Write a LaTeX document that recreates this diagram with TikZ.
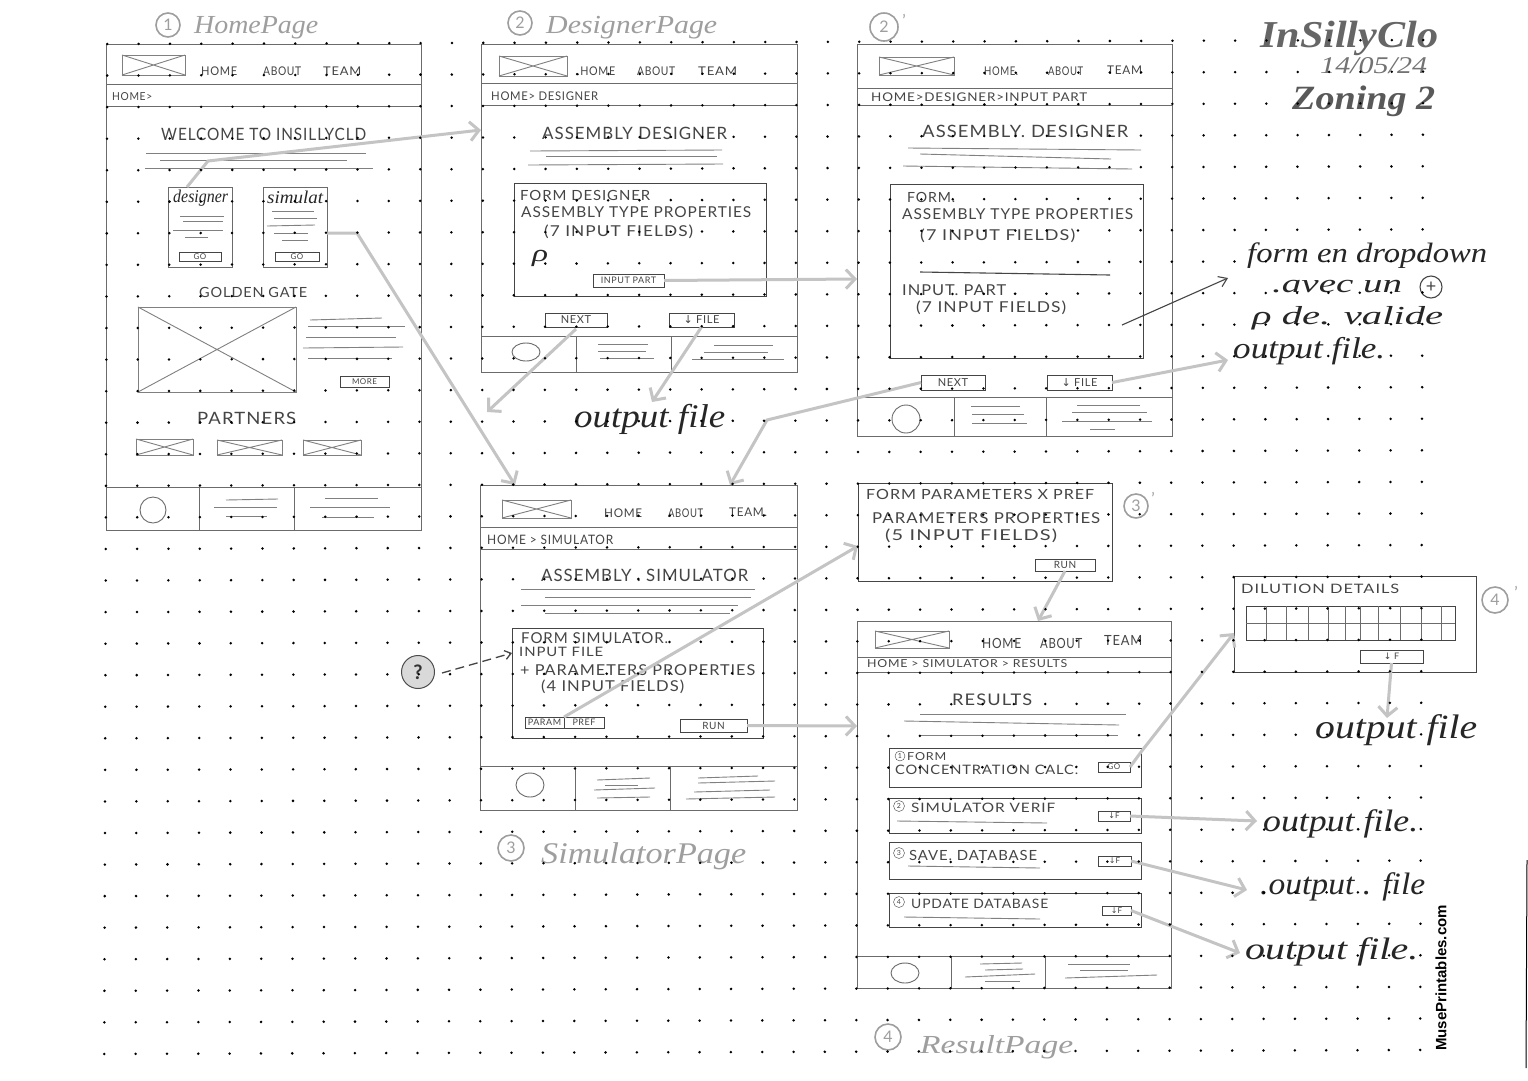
\documentclass[tikz,border=0pt]{standalone}
\usepackage{fontspec}
\usepackage{graphicx}
\usetikzlibrary{arrows.meta}
\setmainfont{Lato}
\newfontfamily\capsfont[LetterSpace=6]{Lato}
\newfontfamily\cursfont{Liberation Serif}
\newfontfamily\arrowfont{DejaVu Sans}
\newfontfamily\brandfont{Liberation Sans}
\definecolor{pen}{gray}{0.27}
\definecolor{framecol}{gray}{0.42}
\definecolor{faint}{gray}{0.5}
\definecolor{ttl}{gray}{0.62}
\definecolor{arrowcol}{gray}{0.77}
\tikzset{
  sk/.style={draw=framecol,line width=0.9pt},
  skl/.style={draw=faint,line width=0.9pt},
  boxs/.style={draw=pen,line width=1pt,inner sep=0pt,outer sep=0pt},
  btn/.style={draw=pen,line width=1pt,inner sep=0pt,outer sep=0pt,text=pen,font=\capsfont\fontsize{10}{10}\selectfont},
  pagef/.style={draw=framecol,line width=1pt,inner sep=0pt,outer sep=0pt},
  capt/.style={anchor=west,inner sep=0pt,text=pen},
  ttlt/.style={anchor=west,inner sep=0pt,text=ttl},
  curst/.style={anchor=west,inner sep=0pt,text=black!85},
  lblc/.style={draw=ttl,circle,line width=1.6pt,text=ttl,inner sep=0pt,minimum size=24pt,font=\fontsize{16}{16}\selectfont},
  flow/.style={draw=arrowcol,line width=3pt,-{Straight Barb[length=9pt,width=19pt,line width=3pt]}},
  penarrow/.style={draw=pen,line width=1.1pt,-{Straight Barb[length=8pt,width=11pt]}},
  dasharrow/.style={draw=pen,line width=1.3pt,dashed,dash pattern=on 9pt off 5pt,-{Straight Barb[length=6pt,width=9pt]}},
}
% text stretched to span x0..x1 at height y
\newcommand{\WT}[7]{\pgfmathsetlengthmacro{\tw}{#4-#3}%
  \node[#1] (#2) at (#3,#5) {\resizebox{\tw}{\height}{\fontsize{#6}{#6}\selectfont #7}};}
\newcommand{\CP}[6]{\WT{capt}{#1}{#2}{#3}{#4}{#5}{\capsfont #6}}
\newcommand{\CU}[6]{\WT{curst}{#1}{#2}{#3}{#4}{#5}{\cursfont\itshape #6}}
% rectangle node x0,y0,x1,y1
\newcommand{\RB}[7]{\pgfmathsetlengthmacro{\bw}{#5-#3}\pgfmathsetlengthmacro{\bh}{#6-#4}%
  \node[#1,minimum width=\bw,minimum height=\bh] (#2) at ({(#3+#5)/2},{(#4+#6)/2}) {#7};}
\newcommand{\XB}[5]{\RB{boxs,draw=faint}{#1}{#2}{#3}{#4}{#5}{}%
  \draw[skl] (#1.north west)--(#1.south east) (#1.north east)--(#1.south west);}
\newcommand{\LL}[1]{\foreach \a/\b/\c/\d in {#1} {\draw[skl] (\a,\b)--(\c,\d);}}
\newcommand{\PG}[9]{\RB{pagef}{#1}{#2}{#3}{#4}{#5}{}%
  \draw[sk] (#2,#6)--(#4,#6) (#2,#7)--(#4,#7) (#2,#8)--(#4,#8);
  \foreach \v in {#9} {\draw[sk] (\v,#8)--(\v,#5);}}
\begin{document}
\begin{tikzpicture}[x=1pt,y=-1pt]
\useasboundingbox (0,0) rectangle (1528,1080);
\fill[white] (0,0) rectangle (1528,1080);

% ---------- captions
\node[lblc] (c1) at (168,25) {1};
\WT{ttlt}{t1}{194}{318}{28}{26}{\cursfont\itshape HomePage}
\node[lblc] (c2) at (520,23) {2};
\WT{ttlt}{t2}{546}{717}{28}{26}{\cursfont\itshape DesignerPage}
\node[lblc,minimum size=28pt] (c2b) at (884,27) {2};
\node[text=ttl,inner sep=0pt,font=\fontsize{16}{16}\selectfont] (c2bp) at (904,20) {'};
\node[lblc,minimum size=26pt] (c3) at (511,848) {3};
\WT{ttlt}{t3}{541}{746}{856}{30}{\cursfont\itshape SimulatorPage}
\node[lblc] (c3b) at (1136,506) {3};
\node[text=ttl,inner sep=0pt,font=\fontsize{16}{16}\selectfont] (c3bp) at (1153,498) {'};
\node[lblc,minimum size=26pt] (c4b) at (1495,600) {4};
\node[text=ttl,inner sep=0pt,font=\fontsize{16}{16}\selectfont] (c4bp) at (1516,592) {'};
\node[lblc,minimum size=26pt] (c4) at (888,1037) {4};
\WT{ttlt}{t4}{920}{1073}{1047}{26}{\cursfont\itshape ResultPage}

% ---------- page 1
\PG{f1}{106}{44}{421}{530}{84}{106}{487}{199,294}
\XB{l1}{122}{55}{185}{75}
\CP{m1a}{201}{237}{71}{12}{HOME}
\CP{m1b}{263}{301}{71}{12}{ABOUT}
\CP{m1c}{323}{361}{71}{12}{TEAM}
\CP{b1}{112}{152}{97}{11}{HOME>}
\CP{h1}{161}{366}{134}{17}{WELCOME TO INSILLYCLD}
\LL{146/153/366/153,160/160/347/160,145/168/373/168}
\RB{boxs,draw=framecol}{card1}{168}{187}{232}{267}{}
\RB{boxs,draw=framecol}{card2}{263}{187}{327}{267}{}
\CU{card1t}{173}{228}{198}{18}{designer}
\CU{card2t}{267}{323}{197}{18}{simulat}
\LL{180/216/224/216,183/221/223/221,173/230/223/230,185/237/208/237}
\LL{272/211/314/211,274/218/317/218,267/226/315/225,274/233/308/233,282/240/308/240}
\RB{btn}{go1}{179}{252}{221}{261}{\fontsize{8}{8}\selectfont GO}
\RB{btn}{go2}{275}{252}{319}{261}{\fontsize{8}{8}\selectfont GO}
\CP{gg}{199}{307}{292}{14}{GOLDEN GATE}
\XB{img}{138}{307}{296}{392}
\LL{310/320/382/318,308/326/405/326,306/337/396/337,303/348/403/347,308/358/392/358}
\RB{btn}{more}{340}{376}{389}{387}{\fontsize{8}{8}\selectfont MORE}
\CP{pn}{197}{296}{418}{17}{PARTNERS}
\XB{p1}{136}{439}{193}{455}
\XB{p2}{217}{440}{282}{455}
\XB{p3}{303}{440}{361}{455}
\draw[sk] (153,510) circle [radius=13];
\LL{226/500/278/499,214/507/277/507,226/516/267/516,325/498/378/498,310/507/390/507,322/517/374/517}

% ---------- page 2
\PG{f2}{481}{44}{797}{372}{83}{105}{336}{576,671}
\XB{l2}{499}{56}{567}{76}
\CP{m2a}{577}{615}{71}{12}{.HOME}
\CP{m2b}{637}{675}{71}{12}{ABOUT}
\CP{m2c}{698}{737}{71}{12}{TEAM}
\CP{b2}{491}{598}{96}{12}{HOME> DESIGNER}
\CP{h2}{542}{727}{133}{17}{ASSEMBLY DESIGNER}
\LL{530/151/722/150,546/156/717/156,528/165/723/164}
\RB{boxs}{form2}{514}{183}{766}{296}{}
\CP{x2a}{520}{650}{195}{14}{FORM DESIGNER}
\CP{x2b}{521}{751}{212}{15}{ASSEMBLY TYPE PROPERTIES}
\CP{x2c}{544}{693}{232}{15}{(7 INPUT FIELDS)}
\CU{x2d}{532}{548}{258}{24}{ρ}
\RB{btn}{ip}{593}{274}{664}{287}{\fontsize{9}{9}\selectfont INPUT PART}
\RB{btn}{nx2}{545}{313}{607}{327}{\fontsize{11}{11}\selectfont NEXT}
\RB{btn}{fl2}{669}{313}{734}{327}{\fontsize{11}{11}\selectfont {\arrowfont ↓} FILE}
\draw[sk] (526,352) ellipse [x radius=14,y radius=9];
\LL{598/344/648/344,598/351/646/351,600/358/654/358,714/345/773/345,704/352/768/352,692/359/784/359}
\CU{o1}{574}{725}{419}{33}{output file}

% ---------- page 2'
\PG{f2b}{857}{44}{1172}{436}{88}{105}{397}{954,1046}
\XB{l2b}{879}{57}{954}{75}
\CP{m3a}{984}{1018}{71}{12}{HOME.}
\CP{m3b}{1048}{1083}{71}{12}{ABOUT}
\CP{m3c}{1107}{1142}{70}{12}{TEAM}
\CP{b3}{871}{1087}{97}{12}{HOME>DESIGNER>INPUT PART}
\CP{h3}{922}{1128}{131}{17}{ASSEMBLY. DESIGNER}
\LL{908/148/1141/150,920/154/1111/159,903/166/1132/169}
\RB{boxs}{form3}{890}{184}{1143}{358}{}
\CP{x3a}{907}{955}{197}{14}{FORM.}
\CP{x3b}{902}{1133}{214}{15}{ASSEMBLY TYPE PROPERTIES}
\CP{x3c}{920}{1075}{236}{15}{(7 INPUT FIELDS)}
\draw[draw=pen,line width=1.1pt] (920,272)--(1110,275);
\CP{x3d}{902}{1006}{290}{15}{INPUT. PART}
\CP{x3e}{916}{1066}{308}{15}{(7 INPUT FIELDS)}
\RB{btn}{nx3}{921}{375}{985}{390}{\fontsize{11}{11}\selectfont NEXT}
\RB{btn}{fl3}{1047}{375}{1112}{390}{\fontsize{11}{11}\selectfont {\arrowfont ↓} FILE}
\draw[sk] (906,419) circle [radius=14];
\LL{971/406/1020/406,972/414/1024/414,972/423/1027/423,1077/405/1140/405,1072/412/1147/412,1062/421/1152/421,1090/429/1115/429}

% ---------- notes
\CU{n1}{1247}{1487}{256}{28}{form en dropdown}
\CU{n2}{1272}{1402}{287}{26}{.avec un}
\node[draw=pen,circle,line width=1.1pt,inner sep=0pt,minimum size=22pt,text=pen,font=\fontsize{18}{18}\selectfont] (nplus) at (1431,287) {+};
\CU{n3}{1252}{1443}{318}{26}{ρ de. valide}
\CU{o2}{1233}{1385}{351}{30}{output file.}
\coordinate (noteend) at (1228,278);
\coordinate (notestart) at (1122,325);
\draw[penarrow] (notestart)--(noteend);
\WT{ttlt}{ti1}{1260}{1438}{38}{38}{\cursfont\bfseries\itshape\color{black!60}InSillyClo}
\WT{ttlt}{ti2}{1320}{1427}{66}{24}{\cursfont\itshape\color{black!55}14/05/24}
\WT{ttlt}{ti3}{1292}{1435}{101}{34}{\cursfont\bfseries\itshape\color{black!65}Zoning 2}

% ---------- page 3
\PG{f3}{480}{485}{797}{810}{527}{549}{766}{575,670}
\XB{l3}{502}{500}{571}{518}
\CP{m4a}{604}{642}{513}{12}{HOME}
\CP{m4b}{668}{703}{513}{12}{ABOUT}
\CP{m4c}{729}{767}{512}{12}{TEAM.}
\CP{b4}{487}{613}{540}{13}{HOME > SIMULATOR}
\CP{h4}{541}{748}{575}{17}{ASSEMBLY . SIMULATOR}
\LL{521/589/755/589,545/597/751/597,521/605/738/605,545/613/730/613}
\RB{boxs}{form4}{512}{628}{763}{738}{}
\CP{x4a}{521}{668}{638}{15}{FORM SIMULATOR.}
\CP{x4b}{519}{603}{652}{13}{INPUT FILE}
\CP{x4c}{520}{755}{670}{15}{+ PARAMETERS PROPERTIES}
\CP{x4d}{541}{684}{687}{15}{(4 INPUT FIELDS)}
\RB{btn}{prm}{525}{717}{564}{728}{\fontsize{9}{9}\selectfont PARAM}
\RB{btn}{prf}{564}{717}{604}{728}{\fontsize{9}{9}\selectfont PREF}
\RB{btn}{run4}{680}{719}{747}{732}{\fontsize{10}{10}\selectfont RUN}
\draw[sk] (530,785) ellipse [x radius=14,y radius=12];
\LL{597/780/650/778,605/785/638/785,594/790/655/788,597/798/650/797,698/778/758/776,698/783/775/781,694/792/770/790,686/799/775/797}
\node[draw=black!70,circle,fill=gray!30,line width=1pt,inner sep=0pt,minimum size=33pt,text=black!80,font=\bfseries\fontsize{20}{20}\selectfont] (q) at (418,672) {?};
\coordinate (qend) at (512,653);
\draw[dasharrow] (q.east)++(7,1) -- (qend);

% ---------- param form
\RB{boxs}{form5}{858}{483}{1112}{581}{}
\CP{x5a}{866}{1094}{494}{14}{FORM PARAMETERS X PREF}
\CP{x5b}{872}{1100}{518}{15}{PARAMETERS PROPERTIES}
\CP{x5c}{885}{1057}{536}{15}{(5 INPUT FIELDS)}
\RB{btn}{run5}{1035}{559}{1095}{571}{\fontsize{10}{10}\selectfont RUN}

% ---------- results
\PG{f4}{857}{621}{1171}{988}{657}{672}{956}{951,1045}
\XB{l4}{875}{631}{949}{648}
\CP{m5a}{982}{1021}{643}{14}{HOME}
\CP{m5b}{1040}{1082}{643}{14}{ABOUT}
\CP{m5c}{1104}{1142}{640}{14}{TEAM}
\CP{b5}{867}{1067}{664}{11}{HOME > SIMULATOR > RESULTS}
\CP{h5}{952}{1032}{700}{16}{RESULTS}
\LL{920/714/1126/714,904/721/1119/725,920/735/1118/735}
\RB{boxs}{r1}{889}{748}{1141}{787}{}
\RB{boxs}{r2}{889}{798}{1141}{833}{}
\RB{boxs}{r3}{889}{842}{1141}{879}{}
\RB{boxs}{r4}{889}{893}{1141}{927}{}
\node[draw=pen,circle,inner sep=0pt,minimum size=10pt,text=pen,font=\fontsize{7}{7}\selectfont] (r1n) at (900,756) {1};
\CP{r1a}{907}{946}{757}{11}{FORM}
\CP{r1b}{895}{1078}{770}{13}{CONCENTRATION CALC.}
\node[draw=pen,circle,inner sep=0pt,minimum size=11pt,text=pen,font=\fontsize{7}{7}\selectfont] (r2n) at (899,806) {2};
\CP{r2a}{911}{1055}{808}{13}{SIMULATOR VERIF}
\node[draw=pen,circle,inner sep=0pt,minimum size=11pt,text=pen,font=\fontsize{7}{7}\selectfont] (r3n) at (899,853) {3};
\CP{r3a}{909}{1037}{855}{14}{SAVE. DATABASE}
\node[draw=pen,circle,inner sep=0pt,minimum size=11pt,text=pen,font=\fontsize{7}{7}\selectfont] (r4n) at (899,902) {4};
\CP{r4a}{911}{1048}{904}{13}{UPDATE DATABASE}
\LL{897/821/1047/823,908/866/1040/868,904/917/1040/919}
\RB{btn}{gob}{1098}{762}{1130}{772}{\fontsize{8}{8}\selectfont GO}
\RB{btn}{fb1}{1098}{811}{1130}{821}{\fontsize{8}{8}\selectfont {\arrowfont ↓}F}
\RB{btn}{fb2}{1098}{856}{1131}{866}{\fontsize{8}{8}\selectfont {\arrowfont ↓}F}
\RB{btn}{fb3}{1102}{906}{1131}{915}{\fontsize{8}{8}\selectfont {\arrowfont ↓}F}
\draw[sk] (905,973) ellipse [x radius=14,y radius=10];
\LL{980/964/1022/963,985/970/1023/969,965/977/1035/974,985/981/1020/981,1068/964/1130/964,1080/970/1128/970,1065/978/1157/975}
\CU{o3}{1263}{1418}{824}{31}{output file.}
\CU{o4}{1260}{1425}{887}{31}{.output . file}
\CU{o5}{1245}{1418}{952}{31}{output file.}

% ---------- dilution
\RB{boxs}{dil}{1234}{576}{1476}{672}{}
\CP{dilt}{1241}{1399}{589}{13}{DILUTION DETAILS}
\RB{boxs}{tab}{1246}{606}{1455}{640}{}
\draw[sk] (tab.west)--(tab.east);
\foreach \v in {1266,1286,1308,1328,1345,1360,1378,1400,1421,1441} {\draw[sk] (\v,606)--(\v,640);}
\RB{btn}{fd}{1360}{650}{1423}{663}{\fontsize{9}{9}\selectfont {\arrowfont ↓} F}
\CU{o6}{1315}{1477}{730}{34}{output file}

% ---------- connectors
\coordinate (e1) at (208,161);
\coordinate (e2) at (357,233);
\coordinate (e3) at (767,420);
\coordinate (e4) at (1141,752);
\coordinate (next2end) at (487,412);
\coordinate (file2end) at (652,402);
\coordinate (o2tip) at (1228,360);
\coordinate (o3tip) at (1257,821);
\coordinate (o4tip) at (1247,890);
\coordinate (o5tip) at (1240,953);
\coordinate (o6tip) at (1387,718);
\draw[flow] (card1.north) ++(-13,0) -- (e1) -- (f2.west |- 0,130);
\draw[flow] (card2.east |- 0,233) -- (e2) -- (f3.north -| 515,0);
\draw[flow] (ip.east) -- (f2b.west |- 0,279);
\draw[flow] (nx2.south) ++(0,2) -- (next2end);
\draw[flow] (fl2.south) -- (file2end);
\draw[flow] (fl3.east) -- (o2tip);
\draw[flow] (nx3.west) -- (e3) -- (f3.north -| 730,0);
\draw[flow] (prm.north east) -- (form5.west |- 0,546);
\draw[flow] (run4.east) -- (f4.west |- 0,726);
\draw[flow] (run5.south) -- (f4.north -| 1038,0);
\draw[flow] (gob.east) -- (e4) -- (dil.west |- 0,633);
\draw[flow] (fb1.east) -- (o3tip);
\draw[flow] (fb2.east) -- (o4tip);
\draw[flow] (fb3.east) -- (o5tip);
\draw[flow] (fd.south) -- (o6tip);

% ---------- dot grid
\foreach \i in {0,...,42} {\foreach \j in {0,...,32} {
  \fill[black] ({107.3+31.33*\i-0.003*31.56*\j},{44+31.56*\j-0.003*31.33*\i}) circle [radius=1.4];
}}

% ---------- imprint
\node[rotate=90,inner sep=0pt,text=black,font=\brandfont\bfseries\fontsize{15}{15}\selectfont] (brand) at (1441,978) {MusePrintables.com};
\coordinate (edgea) at (1527,860);
\coordinate (edgeb) at (1526,1068);
\draw[black,line width=1pt] (edgea)--(edgeb);
\end{tikzpicture}
\end{document}
